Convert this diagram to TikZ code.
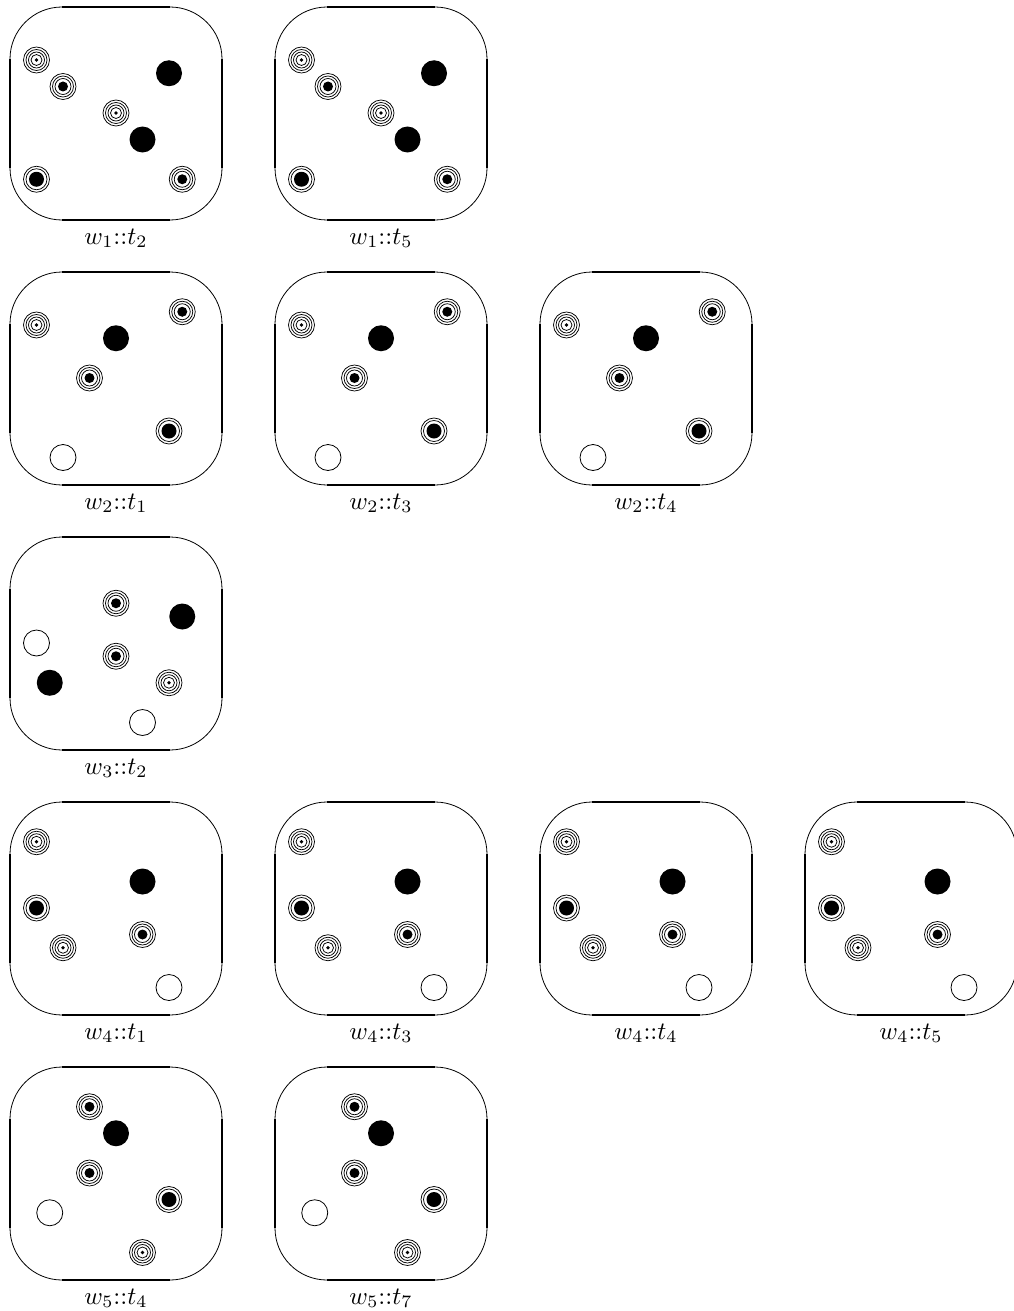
\documentclass[tikz,border=0pt]{standalone}
\tikzset{
  arcline/.style={line width=0.8pt},
  sideline/.style={line width=1.6pt},
  ringline/.style={line width=0.75pt},
  whitedisc/.style={draw,line width=0.8pt,fill=white},
  boxlabel/.style={font=\normalsize, scale=2.5, inner sep=0pt, anchor=base},
}
\newcommand\hh{13.25}
\newcommand\dbox[5]{% #1 x, #2 y, #3 name, #4 label, #5 symbols
  \begin{scope}[shift={(#1,#2)}]
    \draw[arcline, rounded corners=52pt] (0,0) rectangle (212,213);
    \draw[sideline] (52,0) -- (160,0) (52,213) -- (160,213)
                    (0,52) -- (0,161) (212,52) -- (212,161);
    #5
    \node[boxlabel] (#3) at (106,237) {$#4$};
  \end{scope}}
\newcommand\Tt[2]{\fill (#1*\hh,#2*\hh) circle (1.8pt);
  \foreach \rr in {5.5,8,10.5,13}{\draw[ringline] (#1*\hh,#2*\hh) circle (\rr pt);}}
\newcommand\Tm[2]{\fill (#1*\hh,#2*\hh) circle (5pt);
  \foreach \rr in {8,10.5,13}{\draw[ringline] (#1*\hh,#2*\hh) circle (\rr pt);}}
\newcommand\Tb[2]{\fill (#1*\hh,#2*\hh) circle (7.5pt);
  \foreach \rr in {10.5,13}{\draw[ringline] (#1*\hh,#2*\hh) circle (\rr pt);}}
\newcommand\Fd[2]{\fill (#1*\hh,#2*\hh) circle (13pt);}
\newcommand\Wd[2]{\draw[whitedisc] (#1*\hh,#2*\hh) circle (13pt);}
\newcommand\symA{\Tt{2}{4}\Tm{4}{6}\Fd{12}{5}\Tt{8}{8}\Fd{10}{10}\Tb{2}{13}\Tm{13}{13}}
\newcommand\symB{\Tt{2}{4}\Fd{8}{5}\Tm{13}{3}\Tm{6}{8}\Tb{12}{12}\Wd{4}{14}}
\newcommand\symC{\Tm{8}{5}\Fd{13}{6}\Wd{2}{8}\Tm{8}{9}\Fd{3}{11}\Tt{12}{11}\Wd{10}{14}}
\newcommand\symD{\Tt{2}{3}\Fd{10}{6}\Tb{2}{8}\Tt{4}{11}\Tm{10}{10}\Wd{12}{14}}
\newcommand\symE{\Tm{6}{3}\Fd{8}{5}\Tm{6}{8}\Tb{12}{10}\Wd{3}{11}\Tt{10}{14}}
\begin{document}
\begin{tikzpicture}[x=1pt,y=-1pt]
  \useasboundingbox (0,0) rectangle (1014,1311);
  \dbox{10}{7}{l12}{w_1{::}t_2}{\symA}
  \dbox{275}{7}{l15}{w_1{::}t_5}{\symA}
  \dbox{10}{272}{l21}{w_2{::}t_1}{\symB}
  \dbox{275}{272}{l23}{w_2{::}t_3}{\symB}
  \dbox{540}{272}{l24}{w_2{::}t_4}{\symB}
  \dbox{10}{537}{l32}{w_3{::}t_2}{\symC}
  \dbox{10}{802}{l41}{w_4{::}t_1}{\symD}
  \dbox{275}{802}{l43}{w_4{::}t_3}{\symD}
  \dbox{540}{802}{l44}{w_4{::}t_4}{\symD}
  \dbox{805}{802}{l45}{w_4{::}t_5}{\symD}
  \dbox{10}{1067}{l54}{w_5{::}t_4}{\symE}
  \dbox{275}{1067}{l57}{w_5{::}t_7}{\symE}
\end{tikzpicture}
\end{document}
